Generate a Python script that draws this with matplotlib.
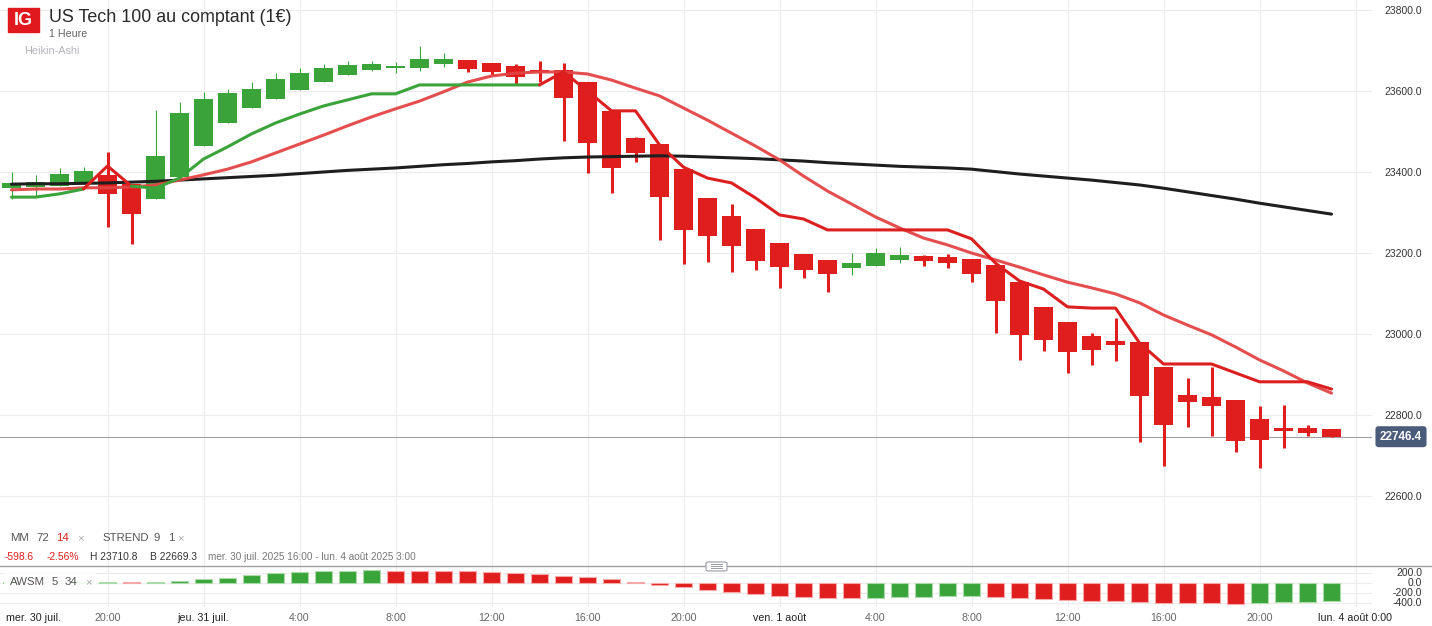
import matplotlib.pyplot as plt
import matplotlib.transforms as mtransforms
from matplotlib.patches import Rectangle, FancyBboxPatch
from matplotlib.lines import Line2D
from matplotlib.ticker import FormatStrFormatter
import numpy as np

plt.rcParams['font.family'] = ['Liberation Sans', 'DejaVu Sans']

# Heikin-Ashi 1h candles, starting mer. 30 juil. 16:00
ha_open = [23360, 23363, 23365, 23375, 23393, 23370, 23333, 23388, 23464, 23521,
           23558, 23580, 23602, 23622, 23640, 23652, 23658, 23657, 23667, 23677,
           23669, 23662, 23652, 23652, 23622, 23551, 23484, 23469, 23407, 23336,
           23291, 23259, 23225, 23198, 23183, 23163, 23168, 23183, 23193, 23190,
           23185, 23170, 23128, 23067, 23030, 22995, 22983, 22980, 22919, 22849,
           22844, 22837, 22790, 22768, 22768, 22766]
ha_close = [23373, 23375, 23395, 23402, 23346, 23296, 23440, 23546, 23580, 23595,
            23605, 23630, 23644, 23657, 23664, 23667, 23660, 23679, 23679, 23654,
            23647, 23635, 23647, 23583, 23472, 23410, 23447, 23338, 23257, 23242,
            23217, 23180, 23165, 23158, 23148, 23175, 23200, 23195, 23180, 23175,
            23148, 23081, 22998, 22985, 22956, 22961, 22973, 22847, 22775, 22832,
            22822, 22736, 22738, 22761, 22756, 22746]
ha_high = [23400, 23393, 23410, 23412, 23449, 23370, 23553, 23573, 23598, 23605,
           23622, 23644, 23657, 23667, 23674, 23674, 23672, 23711, 23694, 23677,
           23669, 23667, 23674, 23669, 23622, 23551, 23486, 23469, 23407, 23336,
           23321, 23259, 23225, 23198, 23183, 23200, 23212, 23215, 23195, 23198,
           23185, 23170, 23128, 23067, 23030, 23003, 23040, 22980, 22919, 22891,
           22919, 22837, 22822, 22825, 22775, 22766]
ha_low = [23333, 23338, 23365, 23375, 23264, 23222, 23333, 23388, 23464, 23521,
          23558, 23580, 23602, 23622, 23640, 23649, 23644, 23649, 23659, 23647,
          23640, 23617, 23622, 23477, 23398, 23348, 23425, 23232, 23173, 23178,
          23153, 23158, 23114, 23138, 23104, 23146, 23168, 23175, 23168, 23163,
          23128, 23003, 22936, 22958, 22904, 22923, 22933, 22733, 22674, 22770,
          22748, 22709, 22669, 22719, 22748, 22746]

# MM 72 (black) and MM 14 (red)
mm72 = [23370, 23371, 23371, 23372, 23373, 23375, 23377, 23380, 23383, 23386,
        23389, 23392, 23396, 23400, 23404, 23407, 23410, 23414, 23418, 23421,
        23425, 23428, 23432, 23435, 23437, 23438, 23439, 23440, 23439, 23437,
        23435, 23433, 23430, 23427, 23423, 23420, 23417, 23414, 23412, 23410,
        23407, 23401, 23395, 23390, 23385, 23380, 23374, 23368, 23360, 23351,
        23342, 23333, 23323, 23314, 23305, 23296]
mm14 = [23356, 23358, 23358, 23361, 23361, 23363, 23368, 23380, 23393, 23407,
        23425, 23447, 23469, 23491, 23514, 23536, 23556, 23575, 23598, 23622,
        23637, 23644, 23647, 23647, 23642, 23627, 23607, 23588, 23558, 23528,
        23496, 23464, 23430, 23390, 23353, 23321, 23289, 23262, 23237, 23220,
        23200, 23183, 23165, 23146, 23128, 23114, 23099, 23077, 23047, 23022,
        22998, 22968, 22936, 22909, 22879, 22854]

# STREND 9 1
strend = [23338, 23338, 23346, 23358, 23415, 23365, 23360, 23385, 23432, 23462,
          23494, 23521, 23543, 23563, 23578, 23593, 23593, 23615, 23615, 23615,
          23615, 23615, 23615, 23647, 23600, 23551, 23551, 23467, 23412, 23385,
          23373, 23336, 23294, 23284, 23257, 23257, 23257, 23257, 23257, 23257,
          23235, 23175, 23131, 23111, 23067, 23064, 23064, 22978, 22926, 22926,
          22926, 22904, 22882, 22882, 22882, 22864]
strend_dir = "gggg" + "rr" + "g" * 17 + "r" * 33

# AWSM 5 34
awsm = [2, -3, -1, 1, 5, 3, 18, 40, 67, 100,
        160, 193, 207, 227, 240, 242, 240, 237, 232, 226,
        218, 195, 170, 140, 118, 67, 20, -40, -93, -147,
        -193, -233, -267, -293, -307, -315, -312, -293, -287, -275,
        -272, -280, -313, -327, -347, -365, -367, -387, -400, -405,
        -407, -427, -413, -393, -380, -367]

last_price = 22746.4

tick_pos = [4, 8, 12, 16, 20, 24, 28, 32, 36, 40, 44, 48, 52, 56]
tick_labels = ["20:00", "jeu. 31 juil.", "4:00", "8:00", "12:00", "16:00", "20:00",
               "ven. 1 août", "4:00", "8:00", "12:00", "16:00", "20:00", "lun. 4 août 0:00"]
day_ticks = [8, 32, 56]

GREEN = '#3aa33a'
RED = '#e01e1e'
W, H = 1432, 626


def fx(px):
    return px / W


def fy(py):
    return 1 - py / H


fig = plt.figure(figsize=(W / 100, H / 100), dpi=100)
ax = fig.add_axes([0, fy(566), fx(1372), 566 / H])
ax2 = fig.add_axes([0, fy(607), fx(1372), 41 / H], sharex=ax)

n = len(ha_open)
x = np.arange(n)
o = np.array(ha_open)
c = np.array(ha_close)
up = c >= o
cols = np.where(up, GREEN, RED)

# wicks
for i in range(n):
    lw = 0.8 if up[i] else 2.2
    ax.vlines(x[i], ha_low[i], ha_high[i], color=cols[i], lw=lw, zorder=2)
# bodies
body_h = np.maximum(np.abs(c - o), 6)
body_b = np.minimum(o, c) - (body_h - np.abs(c - o)) / 2
ax.bar(x, body_h, bottom=body_b, width=0.83, color=cols, zorder=2.1, linewidth=0)

# lines
ax.plot(x, mm72, color='#1e1e1e', lw=2.2, zorder=3, solid_capstyle='round')
ax.plot(x, mm14, color='#e34444', lw=2.2, zorder=3, alpha=0.95, solid_capstyle='round')

# supertrend drawn in runs of the same direction
runs = []
start = 0
for i in range(1, n):
    if strend_dir[i] != strend_dir[i - 1]:
        runs.append((start, i, strend_dir[i - 1]))
        start = i - 1
runs.append((start, n, strend_dir[n - 1]))
for s, e, d in runs:
    col = GREEN if d == 'g' else '#dc1f1f'
    ax.plot(x[s:e], strend[s:e], color=col, lw=2.2, zorder=3.1,
            solid_capstyle='round', solid_joinstyle='round')

ax.axhline(last_price, color='#a0a0a0', lw=0.8, zorder=1.5)
trans = mtransforms.blended_transform_factory(ax.transAxes, ax.transData)
ax.text(1 + 29 / 1372, last_price, "22746.4", transform=trans, ha='center', va='center',
        color='white', fontsize=8.5, fontweight='bold', clip_on=False,
        bbox=dict(boxstyle='round,pad=0.38,rounding_size=0.25', fc='#4b5b7a', ec='none'))

# AWSM bars
aw = np.array(awsm)
aw_up = np.concatenate([[True], aw[1:] > aw[:-1]])
ax2.bar(x, aw, width=0.72, color=np.where(aw_up, GREEN, RED),
        edgecolor=np.where(aw_up, '#a8dba8', '#f4a8a8'), linewidth=0.8, zorder=2)

# axes styling
ax.set_xlim(-11.5 / 24, (1372 - 11.5) / 24)
ax.set_ylim(23800 - 556 * 200 / 81, 23800 + 10 * 200 / 81)
ax2.set_ylim(-490, 330)
ax.set_yticks([22600, 22800, 23000, 23200, 23400, 23600, 23800])
ax2.set_yticks([200, 0, -200, -400])
for a in (ax, ax2):
    for s in a.spines.values():
        s.set_visible(False)
    a.yaxis.tick_right()
    a.yaxis.set_major_formatter(FormatStrFormatter('%.1f'))
    a.tick_params(axis='y', length=0, pad=36, labelsize=7.5, labelcolor='#333333')
    for lbl in a.get_yticklabels():
        lbl.set_horizontalalignment('right')
    a.grid(True, color='#ececec', lw=0.8, zorder=0)
    a.set_axisbelow(True)
    for d in day_ticks:
        a.axvline(d, color='#d8d8d8', lw=0.8, zorder=0.5)
    a.set_facecolor('none')

ax.set_xticks(tick_pos)
ax.tick_params(axis='x', length=0, labelbottom=False)
ax2.set_xticks(tick_pos)
ax2.set_xticklabels(tick_labels)
ax2.tick_params(axis='x', length=0, pad=4, labelsize=7.7)
for pos, lbl in zip(tick_pos, ax2.get_xticklabels()):
    lbl.set_color('#222222' if pos in day_ticks else '#666666')
fig.text(fx(6), fy(618), "mer. 30 juil.", fontsize=7.7, color='#222222', va='center')

# header
fig.add_artist(Rectangle((fx(8), fy(32)), 31 / W, 24 / H, transform=fig.transFigure,
                         color='#e0191f', zorder=5))
fig.text(fx(23.5), fy(20.5), "IG", fontsize=13, fontweight='bold', color='white',
         ha='center', va='center', zorder=6)
fig.text(fx(49), fy(17), "US Tech 100 au comptant (1€)", fontsize=12.9, color='#2a2a2a',
         va='center')
fig.text(fx(49), fy(34), "1 Heure", fontsize=7.7, color='#666666', va='center')
fig.text(fx(24), fy(51), "Heikin-Ashi", fontsize=7.8, color='#b4b4bc', va='center')

# indicator legends
y1 = fy(538)
for px, s, col in [(10, "MM", '#555555'), (36, "72", '#555555'), (56, "14", RED),
                   (77, "×", '#aaaaaa'), (102, "STREND", '#555555'), (154, "9", '#555555'),
                   (168, "1", '#555555'), (177, "×", '#aaaaaa')]:
    fig.text(fx(px), y1, s, fontsize=8.2, color=col, va='center')
y2 = fy(557)
for px, s, col, fs in [(5, "-598.6", RED, 7.4), (47, "-2.56%", RED, 7.4),
                       (90, "H 23710.8", '#333333', 7.4), (150, "B 22669.3", '#333333', 7.4),
                       (208, "mer. 30 juil. 2025 16:00 - lun. 4 août 2025 3:00", '#777777', 7.2)]:
    fig.text(fx(px), y2, s, fontsize=fs, color=col, va='center')

fig.add_artist(Rectangle((fx(4), fy(591)), 92 / W, 18 / H, transform=fig.transFigure,
                         color='white', alpha=0.85, zorder=4, linewidth=0))
for px, s, col in [(10, "AWSM", '#555555'), (52, "5", '#555555'), (65, "34", '#555555'),
                   (85, "×", '#aaaaaa')]:
    fig.text(fx(px), fy(582), s, fontsize=8.2, color=col, va='center', zorder=5)

# panel separator and handle
fig.add_artist(Line2D([0, 1], [fy(566), fy(566)], transform=fig.transFigure,
                      color='#a0a0a0', lw=1, zorder=4))
fig.add_artist(FancyBboxPatch((fx(706), fy(571)), 21 / W, 9 / H, transform=fig.transFigure,
                              boxstyle='round,pad=0,rounding_size=0.002', fc='white',
                              ec='#9a9aa8', lw=0.8, zorder=5))
for py in (564, 566, 568):
    fig.add_artist(Line2D([fx(711), fx(722)], [fy(py), fy(py)], transform=fig.transFigure,
                          color='#8a8a98', lw=0.6, zorder=6))

fig.savefig("out.png", dpi=100, facecolor='white')
